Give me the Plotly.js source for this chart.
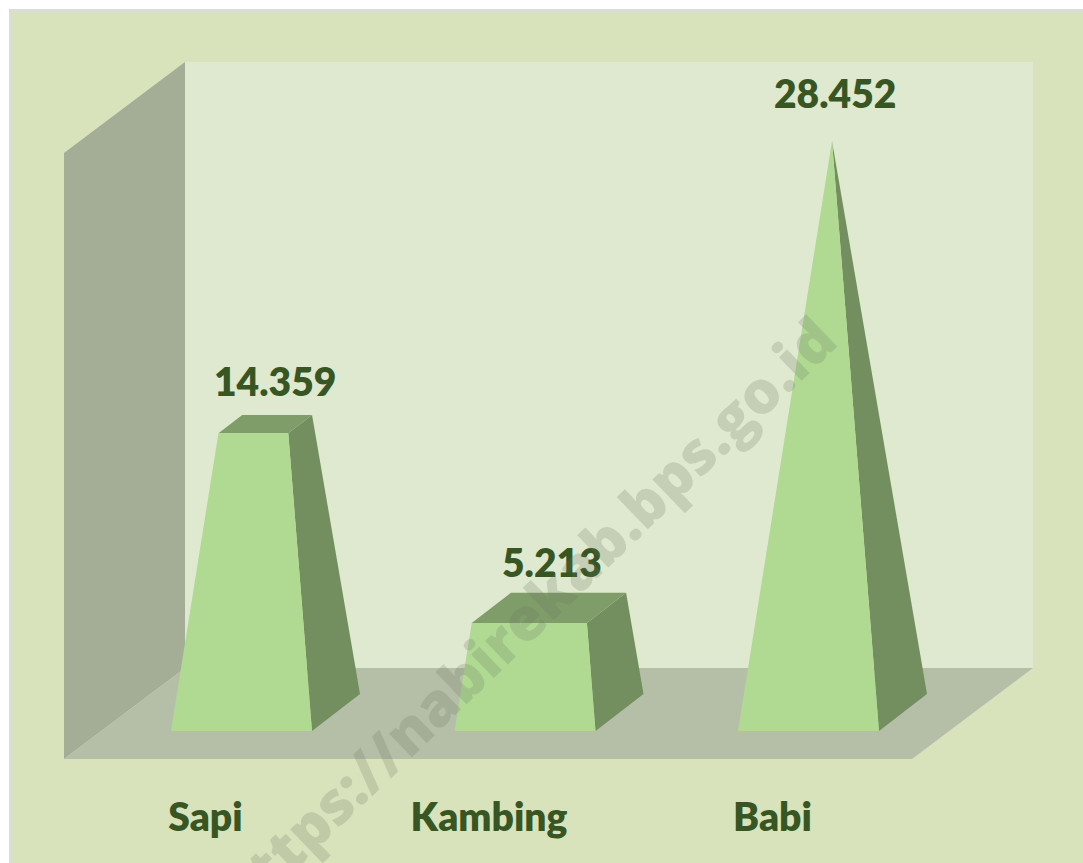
<!DOCTYPE html>
<html>
<head>
<meta charset="utf-8">
<script src="https://cdn.plot.ly/plotly-3.0.1.min.js"></script>
<style>html,body{margin:0;padding:0;background:#fff}#chart{width:1083px;height:863px}</style>
</head>
<body>
<div id="chart"></div>
<script>
const categories = ['Sapi', 'Kambing', 'Babi'];
const values = [14359, 5213, 28452];
const valueLabels = ['14.359', '5.213', '28.452'];
const watermark = 'https://nabirekab.bps.go.id';

// pixel frame of the drawing
const W = 1083, H = 863;
const baseY = 731, peakY = 141, firstCenter = 241.5, spacing = 283.5;
const maxV = Math.max(...values);
const vPerPx = maxV / (baseY - peakY);
const X = p => (p - firstCenter) / spacing;
const Y = p => (baseY - p) * vPerPx;

const halfW = 70.5 / spacing, apexOff = 94 / spacing;
const depthX = 48 / spacing, depthY = 37 * vPerPx;

const C = {front: '#b0da92', side: '#738e5f', top: '#7f9d69', text: '#375623',
           bg: '#d9e3bb', wall: '#dfe9cf', left: '#a4ad96', floor: '#b5bfa7'};

function poly(pts, color) {
  return {type: 'scatter', mode: 'lines', x: pts.map(p => p[0]), y: pts.map(p => p[1]),
    fill: 'toself', fillcolor: color, line: {width: 0, color: color}, hoverinfo: 'skip', showlegend: false};
}
const traces = [];
categories.forEach((c, i) => {
  const t = values[i] / maxV;
  const L = i - halfW, R = i + halfW, A = L + apexOff;
  const at = (x, y) => [x + (A - x) * t, y + (maxV - y) * t];
  const fl = at(L, 0), fr = at(R, 0), bl = at(L + depthX, depthY), br = at(R + depthX, depthY);
  traces.push(poly([[R, 0], [R + depthX, depthY], br, fr], C.side));
  traces.push(poly([fl, fr, br, bl], C.top));
  traces.push(poly([[L, 0], [R, 0], fr, fl], C.front));
});

function rect(x0, y0, x1, y1, fill, line) {
  return {type: 'rect', xref: 'x', yref: 'y', x0: X(x0), x1: X(x1), y0: Y(y0), y1: Y(y1),
    fillcolor: fill, line: line || {width: 0}, layer: 'below'};
}
function path(pts, fill) {
  return {type: 'path', xref: 'x', yref: 'y', layer: 'below', fillcolor: fill, line: {width: 0},
    path: pts.map((p, i) => (i ? 'L' : 'M') + X(p[0]) + ',' + Y(p[1])).join(' ') + ' Z'};
}
const shapes = [
  rect(10, 10, W + 10, H + 10, C.bg, {width: 2, color: '#dcdcdc'}),
  rect(185, 62, 1033, 668, C.wall),
  path([[64, 153], [185, 62], [185, 668], [64, 759]], C.left),
  path([[64, 759], [185, 668], [1033, 668], [912, 759]], C.floor)
];

const labelDx = [33, 27, 26], labelDy = [-34, -31, -48];
const annotations = categories.map((c, i) => {
  const t = values[i] / maxV;
  return {x: i, y: values[i] + (1 - t) * depthY, xref: 'x', yref: 'y', text: valueLabels[i],
    showarrow: false, xshift: labelDx[i], yshift: -labelDy[i],
    font: {family: 'Lato, sans-serif', size: 39, weight: 800, color: C.text}};
});
annotations.push({x: X(525), y: Y(616), xref: 'x', yref: 'y', text: watermark, showarrow: false,
  textangle: -44, font: {family: '"Open Sans", sans-serif', size: 59, weight: 800, color: 'rgba(105,115,95,0.22)'}});

const layout = {
  width: W, height: H, margin: {l: 0, r: 0, t: 0, b: 0}, paper_bgcolor: '#fff', plot_bgcolor: '#fff',
  showlegend: false, shapes, annotations,
  xaxis: {range: [X(0), X(W)], anchor: 'free', position: 1 - 791 / H, showgrid: false, zeroline: false, showline: false,
    ticks: '', tickmode: 'array', tickvals: categories.map((c, i) => i - 36 / spacing), ticktext: categories,
    tickfont: {family: 'Lato, sans-serif', size: 39, weight: 800, color: C.text}, fixedrange: true},
  yaxis: {range: [Y(H), Y(0)], visible: false, fixedrange: true}
};
Plotly.newPlot('chart', traces, layout, {displayModeBar: false, staticPlot: true});
</script>
</body>
</html>
